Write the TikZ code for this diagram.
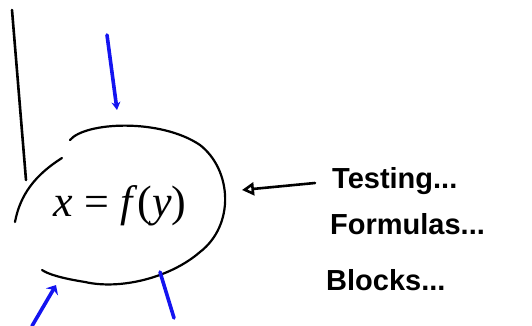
\documentclass[tikz,border=0pt]{standalone}
\usepackage{fontspec}
\setmainfont{Liberation Sans}
\newfontfamily\eqfont{Liberation Serif}
\usetikzlibrary{arrows.meta}
\definecolor{penblue}{RGB}{20,20,240}
\tikzset{
  ink/.style={line width=2.6pt, line cap=round, black},
  blueink/.style={line width=3.6pt, line cap=round, penblue},
  label/.style={anchor=west, inner sep=0pt, font=\fontsize{29}{33}\selectfont\bfseries},
}
\begin{document}
\begin{tikzpicture}[x=1pt,y=-1pt]
\useasboundingbox (0,0) rectangle (532,326);
% vertical black stroke
\coordinate (vTop) at (12,10);
\coordinate (vBot) at (26,180);
\draw[ink] (vTop) -- (vBot);
% ellipse (hand drawn, broken on the left)
\draw[ink, line width=2.2pt] (70,140) .. controls (85,122) and (160,118) .. (200,145)
  .. controls (232,170) and (235,225) .. (200,252)
  .. controls (170,278) and (120,290) .. (85,282)
  .. controls (60,278) and (48,274) .. (42,270);
\draw[ink, line width=2.2pt] (62,158) .. controls (35,175) and (20,195) .. (15,222);
% formula inside
\node[inner sep=0pt, font=\eqfont\fontsize{44}{50}\selectfont] (eq) at (120,206) {\textit{x} = \textit{f}(\textit{y})};
\coordinate (ellE) at (242,190);
% blue strokes
\coordinate (bTop) at (107,35);
\coordinate (bTopEnd) at (117,110);
\draw[blueink, -{Stealth[length=8pt,width=9pt]}] (bTop) -- (bTopEnd);
\coordinate (bBL) at (32,326);
\coordinate (bBLEnd) at (56,285);
\draw[blueink, -{Stealth[length=8pt,width=14pt]}] (bBL) -- (bBLEnd);
\coordinate (bBR1) at (160,272);
\coordinate (bBR2) at (174,318);
\draw[blueink] (bBR1) -- (bBR2);
% labels
\node[label] (t1) at (332,181) {Testing...};
\node[label] (t2) at (330,224) {Formulas...};
\node[label] (t3) at (326,280) {Blocks...};
% arrow from labels to the formula
\coordinate (aStart) at (315,183);
\draw[ink, -{Triangle[open, length=12pt, width=13pt]}] (aStart) -- (ellE);
\end{tikzpicture}
\end{document}
